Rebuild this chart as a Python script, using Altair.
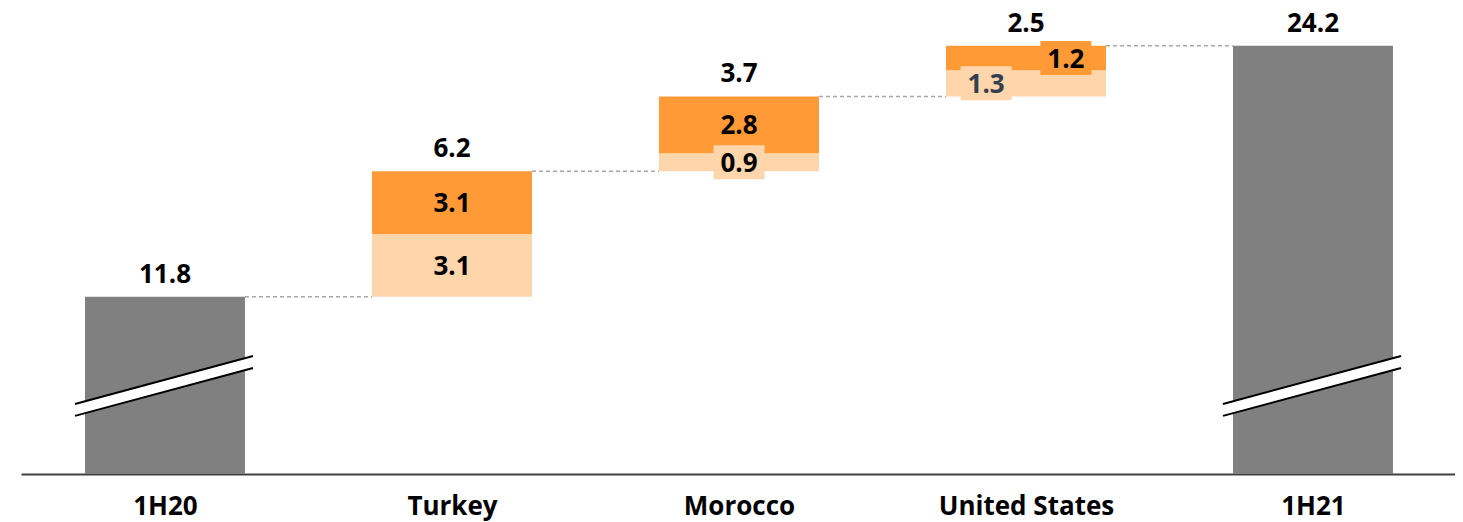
import json
import altair as alt
import pandas as pd

# ---------------- data ----------------
categories = ["1H20", "Turkey", "Morocco", "United States", "1H21"]
start_total = 11.8
end_total = 24.2
light_values = [3.1, 0.9, 1.3]
dark_values = [3.1, 2.8, 1.2]
step_labels = ["6.2", "3.7", "2.5"]
light_labels = ["3.1", "0.9", "1.3"]
dark_labels = ["3.1", "2.8", "1.2"]
start_label = "11.8"
end_label = "24.2"

# ---------------- style ----------------
FONT = "Open Sans"
FS = 26
GREY = "#808080"
LIGHT = "#FFD5AB"
DARK = "#FF9A36"
HW = 0.2787           # half bar width (category units)
Y_DOMAIN = [3.05, 26.07]
X_DOMAIN = [-0.5017, 4.4948]
SPLIT = 0.139         # horizontal shift of split labels (category units)

# ---------------- tables ----------------
bars, rules, totals, seg = [], [], [], []
bars.append({"x0": 0 - HW, "x1": 0 + HW, "lo": 0, "hi": start_total, "kind": "total"})
totals.append({"x": 0, "y": start_total, "t": start_label})
level = start_total
rules.append({"x0": 0 + HW, "x1": 1 - HW, "y": level})
for k in range(3):
    i = k + 1
    l_lo, l_hi = level, level + light_values[k]
    d_lo, d_hi = l_hi, l_hi + dark_values[k]
    bars.append({"x0": i - HW, "x1": i + HW, "lo": l_lo, "hi": l_hi, "kind": "light"})
    bars.append({"x0": i - HW, "x1": i + HW, "lo": d_lo, "hi": d_hi, "kind": "dark"})
    split = (i == 3)
    seg.append({"x": i - SPLIT if split else i, "y": (l_lo + l_hi) / 2, "t": light_labels[k],
                "kind": "light", "tc": "#333F4F" if split else "black"})
    seg.append({"x": i + SPLIT if split else i, "y": (d_lo + d_hi) / 2, "t": dark_labels[k],
                "kind": "dark", "tc": "black"})
    totals.append({"x": i, "y": d_hi, "t": step_labels[k]})
    level = d_hi
    rules.append({"x0": i + HW, "x1": i + 1 - HW, "y": level})
bars.append({"x0": 4 - HW, "x1": 4 + HW, "lo": 0, "hi": end_total, "kind": "total"})
totals.append({"x": 4, "y": end_total, "t": end_label})

brk_area, brk_lines = [], []
for b in [0, 4]:
    xl, xr = b - HW - 0.035, b + HW + 0.028
    brk_area.append({"b": b, "x": xl, "yl": 5.92, "yu": 6.51})
    brk_area.append({"b": b, "x": xr, "yl": 8.29, "yu": 8.88})
    brk_lines += [
        {"lid": f"{b}u", "x": xl, "y": 6.51}, {"lid": f"{b}u", "x": xr, "y": 8.88},
        {"lid": f"{b}l", "x": xl, "y": 5.92}, {"lid": f"{b}l", "x": xr, "y": 8.29},
    ]

df_bars = pd.DataFrame(bars)
df_rules = pd.DataFrame(rules)
df_tot = pd.DataFrame(totals)
df_seg = pd.DataFrame(seg)
df_ba = pd.DataFrame(brk_area)
df_bl = pd.DataFrame(brk_lines)

xs = alt.Scale(domain=X_DOMAIN, nice=False, zero=False)
ys = alt.Scale(domain=Y_DOMAIN, nice=False, zero=False)
color = alt.Color("kind:N", scale=alt.Scale(domain=["total", "light", "dark"],
                                            range=[GREY, LIGHT, DARK]), legend=None)

label_expr = json.dumps(categories) + "[round(datum.value)]"
x_axis = alt.Axis(values=[0, 1, 2, 3, 4], labelExpr=label_expr, ticks=False, grid=False,
                  title=None, domainColor="#404040", domainWidth=2, labelFont=FONT,
                  labelFontSize=FS, labelFontWeight="bold", labelColor="black",
                  labelFlush=False, labelOverlap=False, labelBaseline="top",
                  labelPadding=19)

base_x = alt.X("x0:Q", scale=xs, axis=x_axis)

bar_layer = alt.Chart(df_bars).mark_bar(clip=True).encode(
    x=base_x, x2="x1:Q",
    y=alt.Y("lo:Q", scale=ys, axis=None), y2="hi:Q", color=color)

rule_layer = alt.Chart(df_rules).mark_rule(strokeDash=[4, 3], color="#A6A6A6", strokeWidth=1.5).encode(
    x=alt.X("x0:Q", scale=xs), x2="x1:Q", y=alt.Y("y:Q", scale=ys))

brk_a = alt.Chart(df_ba).mark_area(color="white", opacity=1).encode(
    x=alt.X("x:Q", scale=xs), y=alt.Y("yu:Q", scale=ys), y2="yl:Q", detail="b:N")
brk_l = alt.Chart(df_bl).mark_line(color="black", strokeWidth=2).encode(
    x=alt.X("x:Q", scale=xs), y=alt.Y("y:Q", scale=ys), detail="lid:N")

tot_text = alt.Chart(df_tot).mark_text(font=FONT, fontSize=FS, fontWeight="bold", color="black",
                                       baseline="alphabetic", dy=-14).encode(
    x=alt.X("x:Q", scale=xs), y=alt.Y("y:Q", scale=ys), text="t:N")

box_shape = "M-1,-0.667L1,-0.667L1,0.667L-1,0.667Z"
boxes = alt.Chart(df_seg).mark_point(shape=box_shape, filled=True, size=2601, opacity=1,
                                     strokeWidth=0).encode(
    x=alt.X("x:Q", scale=xs), y=alt.Y("y:Q", scale=ys), color=color)

seg_text = alt.Chart(df_seg).mark_text(font=FONT, fontSize=FS, fontWeight="bold",
                                       baseline="alphabetic", dy=9.5).encode(
    x=alt.X("x:Q", scale=xs), y=alt.Y("y:Q", scale=ys), text="t:N",
    color=alt.Color("tc:N", scale=None))

chart = alt.layer(bar_layer, brk_a, brk_l, rule_layer, boxes, seg_text, tot_text).properties(
    width=1434, height=466, background="white",
    padding={"left": 13, "top": 0, "right": 0, "bottom": 12},
).configure_view(strokeWidth=0, stroke="transparent")

chart.save("out.html", embed_options={"renderer": "svg", "actions": False})
